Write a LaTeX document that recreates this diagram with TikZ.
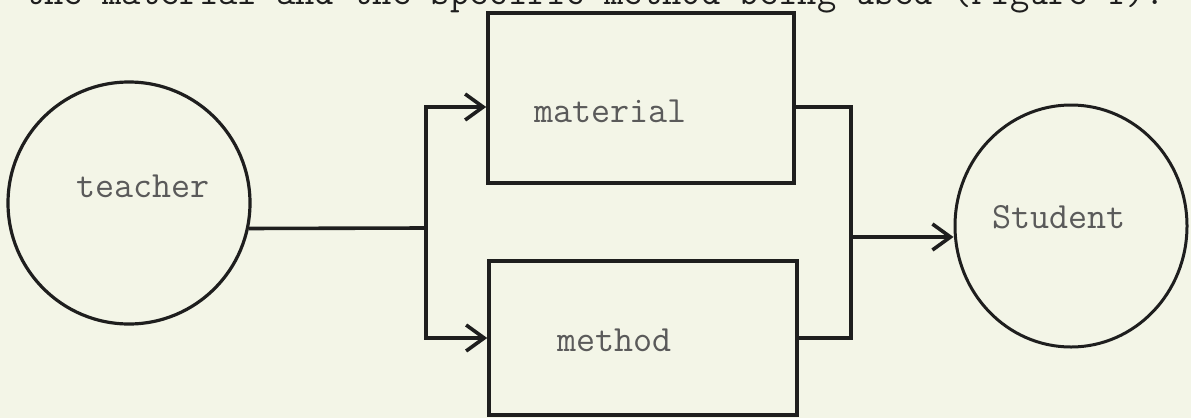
\documentclass[tikz,border=0pt]{standalone}
\usepackage{fontspec}
\usetikzlibrary{arrows.meta,shapes.geometric}
\definecolor{paper}{HTML}{F3F5E7}
\definecolor{ink}{HTML}{1E1E1E}
\definecolor{typed}{HTML}{5A5A5A}
\tikzset{
  wire/.style={draw=ink, line width=3.6pt, line join=miter},
  flow/.style={wire, -{Straight Barb[length=18pt, width=26pt, line width=3.6pt]}},
  ring/.style={circle, draw=ink, line width=3.2pt, inner sep=0pt},
  oval/.style={ellipse, draw=ink, line width=3.0pt, inner sep=0pt},
  panel/.style={rectangle, draw=ink, line width=3.6pt, inner sep=0pt},
  typing/.style={anchor=base west, inner sep=0pt, text=typed,
    font=\ttfamily\fontsize{37}{40}\selectfont},
}
\begin{document}
\begin{tikzpicture}[x=1pt, y=-1pt]
  \path[use as bounding box, fill=paper] (0,0) rectangle (1191,418);

  % last line of the preceding paragraph, cut by the page edge
  \begin{scope}
    \clip (0,0) rectangle (1191,418);
    \node[typing, text=ink, font=\ttfamily\fontsize{37.5}{40}\selectfont] (prose) at (25,4)
      {the material and the specific method being used (Figure 1).};
  \end{scope}

  % participants
  \node[ring, minimum size=242pt] (teacher) at (129,203) {};
  \node[oval, minimum width=232pt, minimum height=242pt] (student) at (1071,226) {};

  % the two channels
  \node[panel, minimum width=306pt, minimum height=170pt] (material) at (641,98) {};
  \node[panel, minimum width=308pt, minimum height=154pt] (method) at (643,338) {};

  % typed labels
  \node[typing] (teacherlbl) at (76,197) {teacher};
  \node[typing] (materiallbl) at (534,122) {material};
  \node[typing] (methodlbl) at (557,351) {method};
  \node[typing] (studentlbl) at (992,228) {Student};

  % branch and merge points
  \coordinate (split) at (426,228);
  \coordinate (join) at (851,237);

  % teacher feeds both channels
  \draw[wire] (teacher.-12) -- (split);
  \draw[flow] (split) |- ([yshift=-9pt]material.west);
  \draw[flow] (split) |- (method.west);

  % both channels reach the student
  \draw[wire] ([yshift=-9pt]material.east) -| (join);
  \draw[wire] (method.east) -| (join);
  \draw[flow] (join) -- (join -| student.west);
\end{tikzpicture}
\end{document}
